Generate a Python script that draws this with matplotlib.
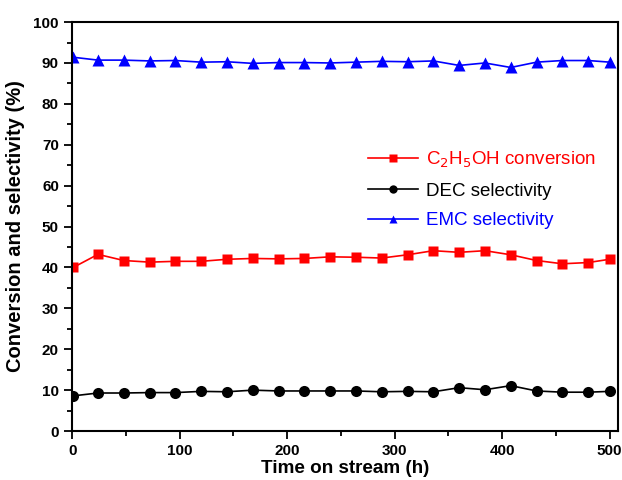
import matplotlib
matplotlib.use("Agg")
import matplotlib.pyplot as plt
from matplotlib.ticker import MultipleLocator

plt.rcParams['font.family'] = ['Liberation Sans', 'DejaVu Sans']

# time on stream (h)
hours = [1, 24, 48, 72, 96, 120, 144, 168, 192, 216, 240,
         264, 288, 312, 336, 360, 384, 408, 432, 456, 480, 500]

etoh_conv = [40.0, 43.2, 41.7, 41.3, 41.5, 41.5, 42.0, 42.2, 42.1, 42.2, 42.6,
             42.5, 42.3, 43.1, 44.1, 43.7, 44.1, 43.1, 41.7, 40.9, 41.2, 42.0]
dec_sel = [8.6, 9.3, 9.3, 9.4, 9.4, 9.7, 9.6, 10.0, 9.8, 9.8, 9.8,
           9.8, 9.6, 9.7, 9.6, 10.6, 10.1, 11.1, 9.8, 9.5, 9.5, 9.7]
emc_sel = [91.4, 90.7, 90.7, 90.5, 90.6, 90.2, 90.3, 89.9, 90.1, 90.1, 90.0,
           90.2, 90.4, 90.3, 90.5, 89.4, 90.0, 88.9, 90.2, 90.6, 90.6, 90.2]

fig = plt.figure(figsize=(6.22, 4.8), dpi=100)
ax = fig.add_axes([0.116, 0.102, 0.878, 0.852])

ax.plot(hours, etoh_conv, '-s', color='red', lw=1.2, ms=7.5, mec='none',
        label='C$_2$H$_5$OH conversion')
ax.plot(hours, dec_sel, '-o', color='black', lw=1.2, ms=8, mec='none',
        label='DEC selectivity')
ax.plot(hours, emc_sel, '-^', color='blue', lw=1.2, ms=8.5, mec='none',
        label='EMC selectivity')

ax.set_xlim(0, 508)
ax.set_ylim(0, 100)
ax.xaxis.set_major_locator(MultipleLocator(100))
ax.xaxis.set_minor_locator(MultipleLocator(50))
ax.yaxis.set_major_locator(MultipleLocator(10))
ax.yaxis.set_minor_locator(MultipleLocator(5))
ax.tick_params(which='both', direction='out', top=False, right=False, width=1.3)
ax.tick_params(which='major', length=6, labelsize=11)
ax.tick_params(which='minor', length=3.5)
for lab in ax.get_xticklabels() + ax.get_yticklabels():
    lab.set_fontweight('bold')
for sp in ax.spines.values():
    sp.set_linewidth(1.5)

ax.set_xlabel('Time on stream (h)', fontsize=13.6, fontweight='bold', labelpad=1)
ax.set_ylabel('Conversion and selectivity (%)', fontsize=14.5,
              fontweight='bold', labelpad=6)

leg = ax.legend(loc='upper left', bbox_to_anchor=(0.51, 0.73), frameon=False,
                fontsize=13.5, handlelength=2.7, markerscale=0.75,
                handletextpad=0.4, labelspacing=0.68)
for txt, c in zip(leg.get_texts(), ['red', 'black', 'blue']):
    txt.set_color(c)

fig.savefig('out.png', dpi=100)
